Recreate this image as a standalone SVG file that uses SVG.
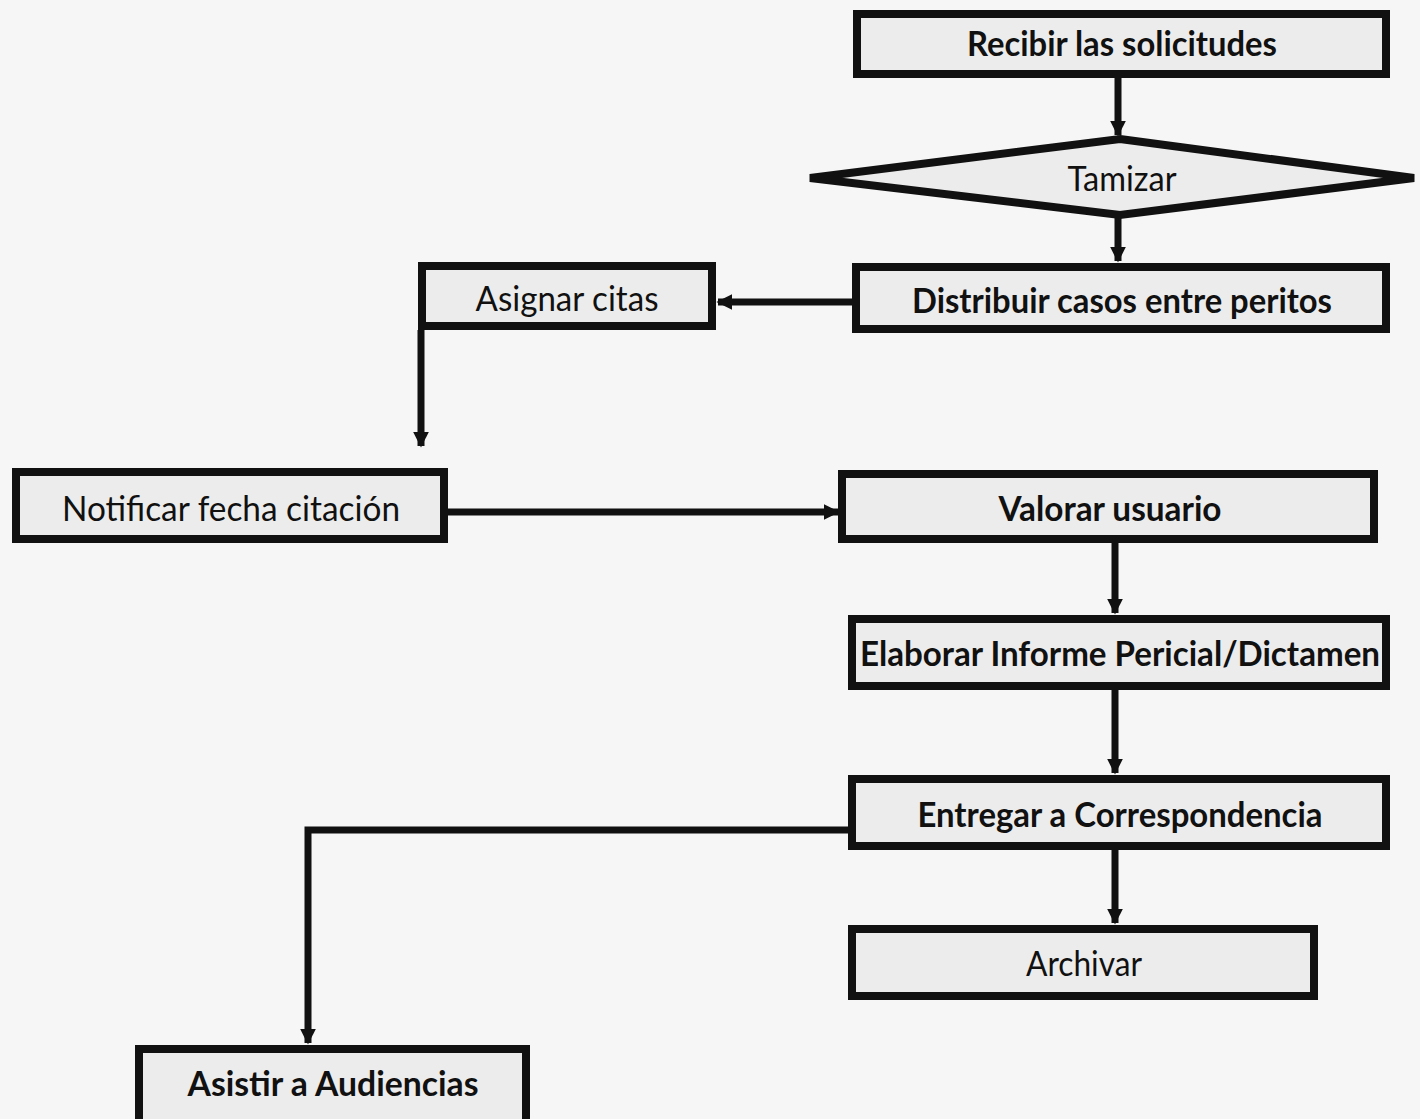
<svg xmlns="http://www.w3.org/2000/svg" width="1420" height="1119" viewBox="0 0 1420 1119">
<defs>
<style>
.bx{fill:#ececec;stroke:#111;stroke-width:8}
.t{font-family:Lato,"Open Sans","Liberation Sans",sans-serif;font-size:35px;fill:#111;text-anchor:middle}
.b{font-weight:bold}
.c{fill:none;stroke:#111;stroke-width:7}
</style>
<marker id="ah" viewBox="0 0 10 10" refX="9" refY="5" markerWidth="2.3" markerHeight="2.3" orient="auto" markerUnits="strokeWidth">
<path d="M0,0 L10,5 L0,10 z" fill="#111"/>
</marker>
</defs>
<rect width="1420" height="1119" fill="#f6f6f6"/>
<g id="connectors">
<path class="c" d="M1118,77 V135" marker-end="url(#ah)"/>
<path class="c" d="M1118,217 V261" marker-end="url(#ah)"/>
<path class="c" d="M852,302 H718" marker-end="url(#ah)"/>
<path class="c" d="M421,330 V446" marker-end="url(#ah)"/>
<path class="c" d="M448,512 H838" marker-end="url(#ah)"/>
<path class="c" d="M1115,543 V613" marker-end="url(#ah)"/>
<path class="c" d="M1115,690 V773" marker-end="url(#ah)"/>
<path class="c" d="M1115,850 V923" marker-end="url(#ah)"/>
<path class="c" d="M848,830 H308 V1043" marker-end="url(#ah)"/>
</g>
<g id="n1"><rect class="bx" x="857" y="14" width="529" height="60"/><text class="t b" x="1122" y="56" textLength="310" lengthAdjust="spacingAndGlyphs">Recibir las solicitudes</text></g>
<g id="n2"><polygon class="bx" points="1120,139 1414,178 1120,215 810,178"/><text class="t" x="1122" y="191" textLength="109" lengthAdjust="spacingAndGlyphs">Tamizar</text></g>
<g id="n3"><rect class="bx" x="856" y="267" width="530" height="62"/><text class="t b" x="1122" y="313" textLength="420" lengthAdjust="spacingAndGlyphs">Distribuir casos entre peritos</text></g>
<g id="n4"><rect class="bx" x="422" y="266" width="290" height="60"/><text class="t" x="567" y="311" textLength="183" lengthAdjust="spacingAndGlyphs">Asignar citas</text></g>
<g id="n5"><rect class="bx" x="16" y="472" width="428" height="67"/><text class="t" x="231" y="521" textLength="338" lengthAdjust="spacingAndGlyphs">Notificar fecha citación</text></g>
<g id="n6"><rect class="bx" x="842" y="474" width="532" height="65"/><text class="t b" x="1110" y="521" textLength="223" lengthAdjust="spacingAndGlyphs">Valorar usuario</text></g>
<g id="n7"><rect class="bx" x="852" y="619" width="534" height="67"/><text class="t b" x="1120" y="666" textLength="520" lengthAdjust="spacingAndGlyphs">Elaborar Informe Pericial/Dictamen</text></g>
<g id="n8"><rect class="bx" x="852" y="779" width="534" height="67"/><text class="t b" x="1120" y="827" textLength="405" lengthAdjust="spacingAndGlyphs">Entregar a Correspondencia</text></g>
<g id="n9"><rect class="bx" x="852" y="929" width="462" height="67"/><text class="t" x="1084" y="976" textLength="116" lengthAdjust="spacingAndGlyphs">Archivar</text></g>
<g id="n10"><rect class="bx" x="139" y="1049" width="387" height="80"/><text class="t b" x="333" y="1096" textLength="291" lengthAdjust="spacingAndGlyphs">Asistir a Audiencias</text></g>
</svg>
